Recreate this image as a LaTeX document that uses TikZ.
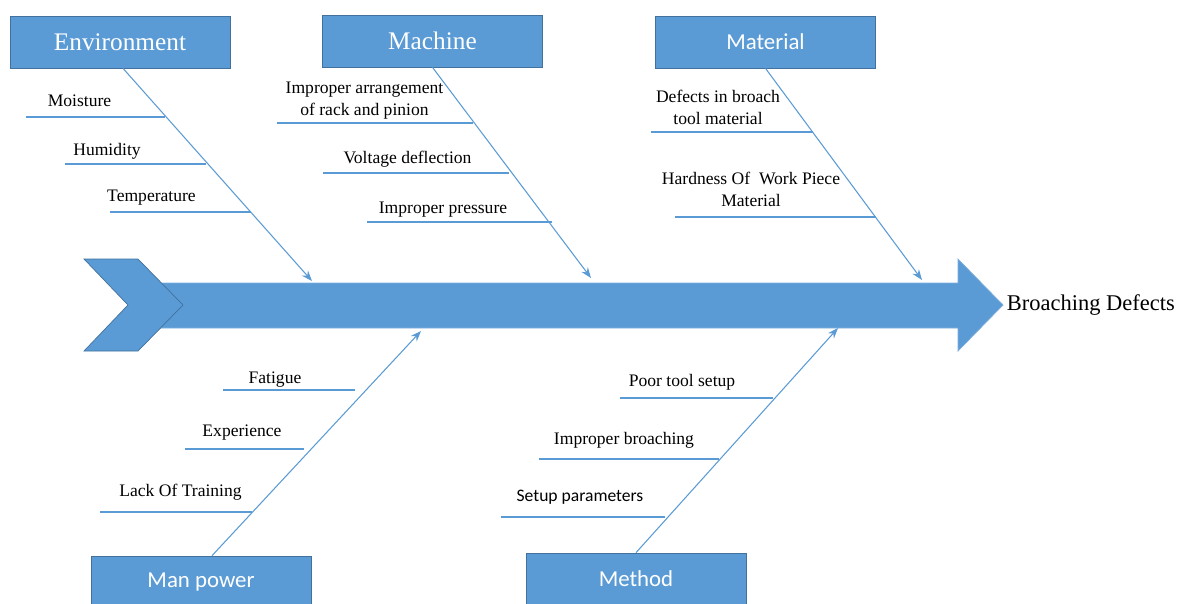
\documentclass[tikz,border=0pt]{standalone}
\usepackage{fontspec}
\setmainfont{Liberation Serif}
\setsansfont{Carlito}
\usetikzlibrary{arrows.meta,positioning}
\definecolor{boneBlue}{HTML}{5B9BD5}
\definecolor{boneEdge}{HTML}{41719C}
\begin{document}
\begin{tikzpicture}[x=0.02cm,y=-0.02cm,
  cat/.style={draw=boneEdge,fill=boneBlue,text=white,minimum width=4.4cm,minimum height=1.04cm,inner sep=0pt},
  serifcat/.style={cat,font=\fontsize{14.4}{17}\selectfont},
  sanscat/.style={cat,font=\sffamily\fontsize{13}{15}\selectfont},
  cause/.style={font=\fontsize{10}{12.5}\selectfont,align=center,anchor=base,inner sep=0pt},
  rib/.style={boneBlue,line width=0.6pt},
  bone/.style={boneBlue,line width=0.6pt,-{Stealth[length=6pt,width=4.5pt]}}]
  \useasboundingbox[fill=white] (0,0) rectangle (1180,603);
  \fill[boneBlue,draw=boneBlue!80!white,line width=0.4pt] (155,283) -- (958,283) -- (958,259) -- (1003,305)
    -- (958,351) -- (958,328) -- (155,328) -- cycle;
  \fill[boneBlue,draw=boneEdge,line width=0.4pt] (84,259) -- (138,259) -- (183,305) -- (138,351) -- (84,351) -- (128,305) -- cycle;
  \coordinate (head) at (1003,305);
  \node[font=\fontsize{12.8}{15}\selectfont,anchor=west,inner sep=2pt] (effect) at (head) {Broaching Defects};
  \node[serifcat] (env) at (120,42) {Environment};
  \node[serifcat] (mach) at (432.5,41) {Machine};
  \node[sanscat] (mat) at (765.5,42) {Material};
  \node[sanscat] (man) at (201,582) {Man power};
  \node[sanscat] (meth) at (636,579) {Method};
  \coordinate (envtip) at (312,281);
  \coordinate (machtip) at (591,278);
  \coordinate (mattip) at (922,280);
  \coordinate (mantip) at (421,331);
  \coordinate (methtip) at (838,328);
  \draw[bone] ([xshift=0.06cm]env.south) -- (envtip);
  \draw[bone] (mach.south) -- (machtip);
  \draw[bone] (mat.south) -- (mattip);
  \draw[bone] ([xshift=0.22cm]man.north) -- (mantip);
  \draw[bone] (meth.north) -- (methtip);
  \foreach \n/\xa/\xb/\yy in {1/26/165/117, 2/65/206/164, 3/110/251/212,
      4/277/473/123, 5/323/509/173, 6/367/552/222,
      7/651/813/132, 8/675/876/217,
      9/223/355/390, 10/185/304/449, 11/100/252/512,
      12/620/773/398, 13/539/719/459, 14/501/665/517}{
    \coordinate (r\n a) at (\xa,\yy);
    \coordinate (r\n b) at (\xb,\yy);
    \draw[rib] (r\n a) -- (r\n b);}
  \foreach \n/\px/\py/\txt in {1/79.5/106/Moisture, 2/107/155/Humidity, 3/151.5/201/Temperature,
      4/364.5/115/{Improper arrangement\\ of rack and pinion}, 5/407.5/163/Voltage deflection,
      6/443/213/Improper pressure, 7/718/124/{Defects in broach\\ tool material},
      8/751/206/{Hardness Of\ \ Work Piece\\ Material},
      9/275/383/Fatigue, 10/242/436/Experience, 11/180.5/496/Lack Of Training,
      12/682/386/Poor tool setup, 13/624/444/Improper broaching}
    \node[cause] (c\n) at (\px,\py) {\txt};
  \node[cause,font=\sffamily\fontsize{10}{12.5}\selectfont] (c14) at (580,501) {Setup parameters};
\end{tikzpicture}
\end{document}
